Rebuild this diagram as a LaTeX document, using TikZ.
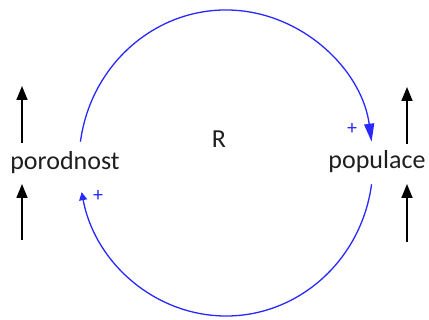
\documentclass[tikz,border=0pt]{standalone}
\usepackage{fontspec}
\setmainfont{Carlito}
\usetikzlibrary{arrows.meta}
\definecolor{loopblue}{RGB}{40,40,255}
\definecolor{txt}{RGB}{30,30,30}
\begin{document}
\begin{tikzpicture}[x=1pt,y=1pt,
  lbl/.style={font=\fontsize{26}{30}\selectfont, text=txt, inner sep=0pt},
  pluslbl/.style={font=\fontsize{20}{24}\selectfont, text=loopblue, inner sep=0pt},
  stub/.style={line width=1.6pt, black, -{Triangle[length=14pt,width=11pt]}},
  loopline/.style={line width=1.3pt, loopblue}]
\useasboundingbox (0,0) rectangle (429,320);
\node[lbl] (por) at (65,157) {porodnost};
\node[lbl] (pop) at (377,158) {populace};
\node[lbl] (r) at (219,181) {R};
\node[pluslbl] (p1) at (352,191) {+};
\node[pluslbl] (p2) at (98,124) {+};
% loop arcs
\coordinate (a1) at ({226+147*cos(172)},{157+153*sin(172)});
\coordinate (a2) at ({226+147*cos(-8)},{157+153*sin(-8)});
\draw[loopline, -{Triangle[length=18pt,width=10pt]}] (a1) arc[start angle=172, end angle=8, x radius=147, y radius=153];
\draw[loopline, -{Triangle[length=8pt,width=8pt]}] (a2) arc[start angle=-8, end angle=-169, x radius=147, y radius=153];
% stubs
\coordinate (l1s) at (22,177); \coordinate (l1e) at (22,234);
\coordinate (l2s) at (22,80);  \coordinate (l2e) at (22,136);
\coordinate (r1s) at (407,176); \coordinate (r1e) at (407,233);
\coordinate (r2s) at (407,78);  \coordinate (r2e) at (407,136);
\draw[stub] (l1s) -- (l1e);
\draw[stub] (l2s) -- (l2e);
\draw[stub] (r1s) -- (r1e);
\draw[stub] (r2s) -- (r2e);
\end{tikzpicture}
\end{document}
